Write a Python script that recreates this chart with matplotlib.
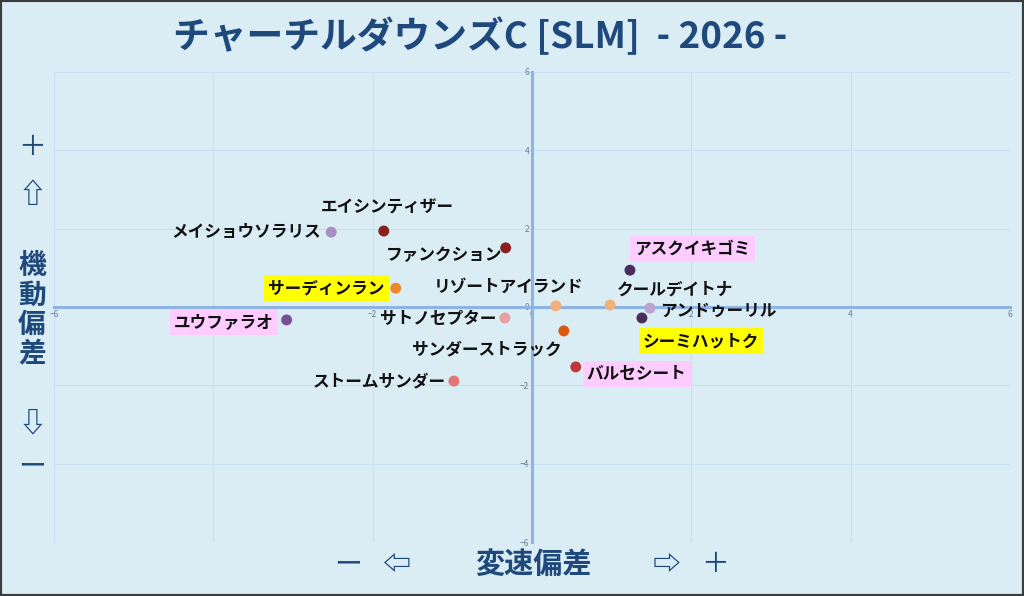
import matplotlib
matplotlib.use("Agg")
import matplotlib.pyplot as plt
from matplotlib.patches import Rectangle

plt.rcParams['font.family'] = ['Noto Sans CJK JP', 'DejaVu Sans']

# horse names and their two deviation scores
names = ["メイショウソラリス", "エイシンティザー", "ファンクション", "サーディンラン",
         "リゾートアイランド", "クールデイトナ", "アンドゥーリル", "アスクイキゴミ",
         "シーミハットク", "ユウファラオ", "サトノセプター", "サンダーストラック",
         "バルセシート", "ストームサンダー"]
speed_dev = [-2.52, -1.86, -0.33, -1.71, 0.30, 0.98, 1.48, 1.23, 1.38, -3.08, -0.34, 0.40, 0.55, -0.98]
agility_dev = [1.91, 1.94, 1.51, 0.48, 0.03, 0.05, -0.03, 0.94, -0.28, -0.33, -0.28, -0.61, -1.53, -1.89]
dot_colors = ["#a88dc0", "#8b1e1e", "#8b1e1e", "#f0862a", "#f4b07a", "#f4b07a", "#b8a4cc",
              "#4a2d5e", "#4a2d5e", "#7a4e9a", "#e8a0a0", "#d95a0a", "#c0373a", "#e07878"]
highlight = [None, None, None, "#ffff00", None, None, None, "#ffccff",
             "#ffff00", "#ffccff", None, None, "#ffccff", None]

# label placement (pixels from the dot) and alignment
label_off = [(-10, 0), (3, 23), (-3, -7), (-11, 0), (-47, 19), (7, 16), (10, -3),
             (4, 21), (1, -23), (-13, -2), (-9, -1), (-2, -18), (11, -7), (-8, 0)]
label_ha = ["right", "center", "right", "right", "center", "left", "left",
            "left", "left", "right", "right", "right", "left", "right"]

bg = "#dbedf4"
navy = "#1f497d"

fig = plt.figure(figsize=(10.24, 5.96), dpi=100, facecolor=bg)
ax = fig.add_axes([0.0527, 0.0906, 0.9336, 0.7886], facecolor=bg)

ax.set_xlim(-6, 6)
ax.set_ylim(-6, 6)
ax.set_xticks([-6, -4, -2, 0, 2, 4, 6])
ax.set_yticks([-6, -4, -2, 0, 2, 4, 6])
ax.grid(True, color="#c9e0f0", linewidth=0.8)
ax.set_axisbelow(True)

for side in ["top", "right"]:
    ax.spines[side].set_visible(False)
ax.spines["left"].set_position("zero")
ax.spines["bottom"].set_position("zero")
for side in ["left", "bottom"]:
    ax.spines[side].set_color("#8db4e2")
    ax.spines[side].set_linewidth(2.2)
ax.tick_params(length=0, labelsize=6, labelcolor="#6b7f99", pad=2)

ax.scatter(speed_dev, agility_dev, s=62, c=dot_colors, edgecolors="none", zorder=3)

for i, name in enumerate(names):
    box = None
    if highlight[i]:
        box = dict(boxstyle="square,pad=0.25", facecolor=highlight[i], edgecolor="none")
    ax.annotate(name, (speed_dev[i], agility_dev[i]), xytext=label_off[i],
                textcoords="offset pixels", ha=label_ha[i], va="center",
                fontsize=12, fontweight="bold", color="#111111", bbox=box, zorder=4)

fig.text(0.469, 0.938, "チャーチルダウンズC [SLM]  - 2026 -", ha="center", va="center",
         fontsize=26.5, fontweight="bold", color=navy)

# vertical axis caption on the left
left_parts = [("＋", 147, "normal"), ("⇧", 195, "bold"), ("機", 266, "bold"), ("動", 296, "bold"),
              ("偏", 325, "bold"), ("差", 353, "bold"), ("⇩", 423, "bold"), ("ー", 466, "normal")]
for txt, py, wt in left_parts:
    fig.text(32 / 1024, 1 - py / 596, txt, ha="center", va="center",
             fontsize=20, fontweight=wt, color=navy)

# horizontal axis caption at the bottom
bottom_parts = [("ー", 348, "normal"), ("⇦", 397, "bold"), ("変速偏差", 533, "bold"),
                ("⇨", 667, "bold"), ("＋", 715, "normal")]
for txt, px, wt in bottom_parts:
    fig.text(px / 1024, 1 - 564 / 596, txt, ha="center", va="center",
             fontsize=21 if len(txt) > 1 else 20, fontweight=wt, color=navy)

fig.patches.append(Rectangle((0, 0), 1, 1, transform=fig.transFigure, fill=False,
                             edgecolor="#3c3c3c", linewidth=3))

fig.savefig("out.png", dpi=100, facecolor=bg)
